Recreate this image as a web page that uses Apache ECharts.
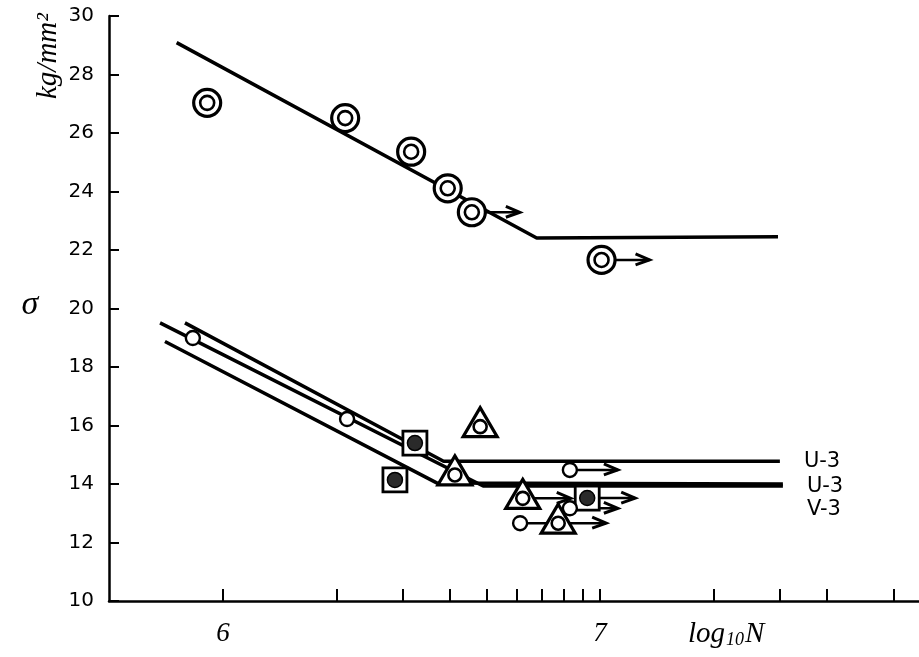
<!DOCTYPE html>
<html>
<head>
    <meta charset="UTF-8">
    <title>S-N curve</title>
    <script type="text/javascript" src="https://cdn.jsdelivr.net/npm/echarts@6/dist/echarts.min.js"></script>
    <style>
        html, body { margin: 0; padding: 0; background: #fff; }
        #chart { width: 919px; height: 657px; }
    </style>
</head>
<body>
    <div id="chart"></div>
    <script>
        // x values are log10 N, y values are sigma in kg/mm2
        var yTicks = [10, 12, 14, 16, 18, 20, 22, 24, 26, 28, 30];
        var xLabelValues = [6, 7];
        var tickN = [1e6, 2e6, 3e6, 4e6, 5e6, 6e6, 7e6, 8e6, 9e6, 1e7, 2e7, 3e7, 4e7, 6e7];

        // upper group (double circles)
        var upperLine = [[5.877, 29.09], [6.832, 22.41], [7.472, 22.45]];
        var upperPoints = [[5.958, 27.03], [6.324, 26.51], [6.499, 25.36], [6.596, 24.11], [6.660, 23.29], [7.004, 21.66]];
        var upperRunout = [0, 0, 0, 0, 1, 1];

        // lower group lines
        var lineU3a = [[5.899, 19.51], [6.585, 14.78], [7.477, 14.78]];
        var lineU3b = [[5.833, 19.51], [6.690, 13.93], [7.485, 13.93]];
        var lineV3 = [[5.846, 18.87], [6.568, 14.03], [7.485, 14.00]];

        // lower group points
        var openCircles = [[5.920, 18.99], [6.329, 16.22], [6.920, 14.48], [6.788, 12.66], [6.920, 13.17]];
        var openRunout = [0, 0, 1, 1, 1];
        var squarePoints = [[6.509, 15.40], [6.456, 14.14], [6.966, 13.52]];
        var squareRunout = [0, 0, 1];
        var trianglePoints = [[6.682, 15.96], [6.615, 14.31], [6.795, 13.51], [6.889, 12.66]];
        var triangleRunout = [0, 0, 1, 1];

        var chart = echarts.init(document.getElementById('chart'), null, {renderer: 'canvas'});

        var INK = '#000';

        function runouts(points, flags) {
            return points.filter(function (p, i) { return flags[i] === 1; });
        }

        function lineSeries(data, label, offset) {
            return {
                type: 'line',
                data: data,
                showSymbol: false,
                silent: true,
                z: 2,
                lineStyle: {color: INK, width: 3.5},
                endLabel: {
                    show: !!label,
                    formatter: label || '',
                    distance: 24,
                    offset: offset || [0, 0],
                    color: INK,
                    fontFamily: 'DejaVu Sans',
                    fontSize: 21
                }
            };
        }

        function arrowSeries(data) {
            return {
                type: 'custom',
                data: data,
                z: 3,
                silent: true,
                renderItem: function (params, api) {
                    var c = api.coord([api.value(0), api.value(1)]);
                    var L = 48;
                    return {
                        type: 'group',
                        children: [
                            {type: 'line', shape: {x1: c[0], y1: c[1], x2: c[0] + L, y2: c[1]},
                                style: {stroke: INK, lineWidth: 2.5}},
                            {type: 'polyline', shape: {points: [[c[0] + L - 14, c[1] - 6], [c[0] + L, c[1]], [c[0] + L - 14, c[1] + 5]]},
                                style: {stroke: INK, lineWidth: 3, fill: null}}
                        ]
                    };
                }
            };
        }

        function markerSeries(data, kind) {
            return {
                type: 'custom',
                data: data,
                z: 4,
                silent: true,
                renderItem: function (params, api) {
                    var c = api.coord([api.value(0), api.value(1)]);
                    var x = c[0], y = c[1];
                    var kids = [];
                    if (kind === 'double') {
                        kids.push({type: 'circle', shape: {cx: x, cy: y, r: 13.5}, style: {fill: '#fff', stroke: INK, lineWidth: 3.2}});
                        kids.push({type: 'circle', shape: {cx: x, cy: y, r: 7}, style: {fill: '#fff', stroke: INK, lineWidth: 2.6}});
                    } else if (kind === 'open') {
                        kids.push({type: 'circle', shape: {cx: x, cy: y, r: 7}, style: {fill: '#fff', stroke: INK, lineWidth: 2.4}});
                    } else if (kind === 'square') {
                        kids.push({type: 'rect', shape: {x: x - 12, y: y - 12, width: 24, height: 24}, style: {fill: '#fff', stroke: INK, lineWidth: 2.8}});
                        kids.push({type: 'circle', shape: {cx: x, cy: y, r: 7.5}, style: {fill: '#2a2a2a', stroke: INK, lineWidth: 1.5}});
                    } else if (kind === 'triangle') {
                        kids.push({type: 'polygon', shape: {points: [[x, y - 19], [x + 17, y + 10], [x - 17, y + 10]]},
                            style: {fill: '#fff', stroke: INK, lineWidth: 3.2, lineJoin: 'miter'}});
                        kids.push({type: 'circle', shape: {cx: x, cy: y, r: 6.5}, style: {fill: '#fff', stroke: INK, lineWidth: 2.6}});
                    }
                    return {type: 'group', children: kids};
                }
            };
        }

        var option = {
            animation: false,
            backgroundColor: '#fff',
            grid: {left: 109, right: 0, top: 16, bottom: 56, containLabel: false},
            xAxis: {
                type: 'value',
                min: 5.6976,
                max: 7.846,
                axisLine: {show: true, lineStyle: {color: INK, width: 2.5}},
                axisTick: {
                    show: true,
                    inside: true,
                    length: 12,
                    lineStyle: {color: INK, width: 2},
                    customValues: tickN.map(function (n) { return Math.log10(n); })
                },
                axisLabel: {
                    customValues: xLabelValues,
                    formatter: function (v) { return String(Math.round(v)); },
                    margin: 19,
                    color: INK,
                    fontFamily: 'Liberation Serif',
                    fontStyle: 'italic',
                    fontSize: 27
                },
                splitLine: {show: false}
            },
            yAxis: {
                type: 'value',
                min: yTicks[0],
                max: yTicks[yTicks.length - 1],
                interval: 2,
                axisLine: {show: true, lineStyle: {color: INK, width: 2.5}},
                axisTick: {show: true, inside: true, length: 10, lineStyle: {color: INK, width: 2}},
                axisLabel: {
                    margin: 15,
                    color: INK,
                    fontFamily: 'DejaVu Sans',
                    fontSize: 20
                },
                splitLine: {show: false}
            },
            graphic: [
                {type: 'text', x: 48, y: 56, rotation: Math.PI / 2,
                    style: {text: 'kg/mm²', font: 'italic 29px "Liberation Serif"', fill: INK, align: 'center', verticalAlign: 'middle'}},
                {type: 'text', x: 30, y: 305,
                    style: {text: 'σ', font: 'italic 34px "Liberation Serif"', fill: INK, align: 'center', verticalAlign: 'middle'}},
                {type: 'text', x: 688, y: 634,
                    style: {
                        text: '{a|log}{b|10}{a|N}',
                        verticalAlign: 'middle',
                        fill: INK,
                        rich: {
                            a: {font: 'italic 29px "Liberation Serif"', fill: INK},
                            b: {font: 'italic 18px "Liberation Serif"', fill: INK, padding: [12, 1, 0, 1]}
                        }
                    }}
            ],
            series: [
                lineSeries(upperLine),
                lineSeries(lineU3a, 'U-3'),
                lineSeries(lineU3b, 'U-3'),
                lineSeries(lineV3, 'V-3', [0, 26]),
                arrowSeries(runouts(upperPoints, upperRunout)),
                arrowSeries(runouts(openCircles, openRunout)),
                arrowSeries(runouts(squarePoints, squareRunout)),
                arrowSeries(runouts(trianglePoints, triangleRunout)),
                markerSeries(upperPoints, 'double'),
                markerSeries(squarePoints, 'square'),
                markerSeries(trianglePoints, 'triangle'),
                markerSeries(openCircles, 'open')
            ]
        };
        chart.setOption(option);
    </script>
</body>
</html>
